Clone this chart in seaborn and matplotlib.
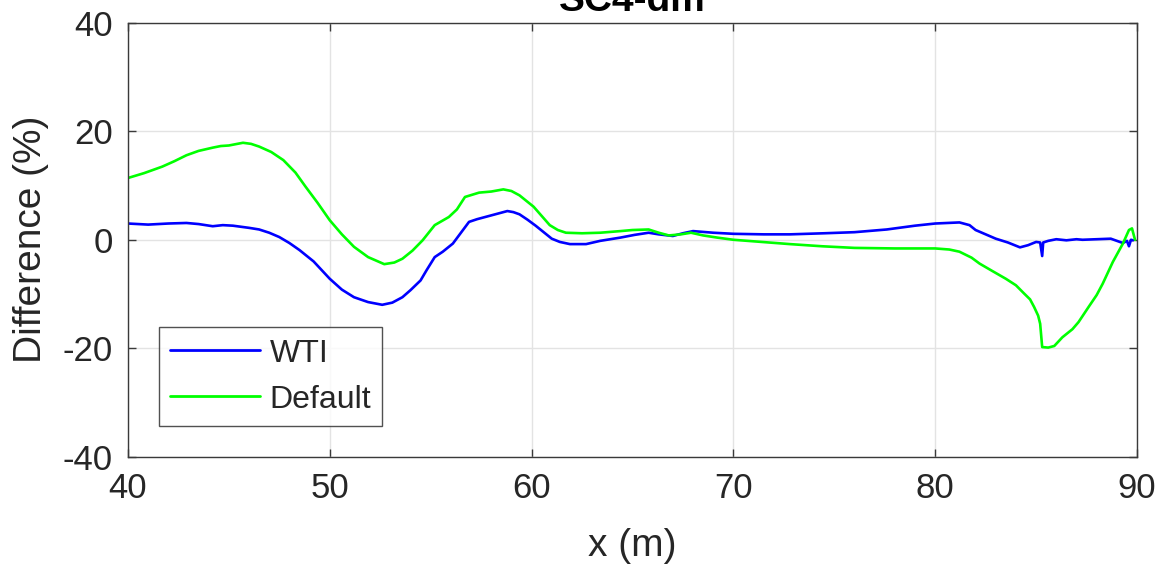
import matplotlib
matplotlib.use("Agg")
import matplotlib.pyplot as plt
import numpy as np
import pandas as pd
import seaborn as sns

# Difference profiles along x (m) for the two parameter sets
wti_x = [40.0, 41.0, 42.0, 42.9, 43.5, 44.2, 44.7, 45.2, 46.0, 46.5, 47.0, 47.5,
         48.0, 48.5, 49.2, 50.0, 50.6, 51.2, 51.9, 52.6, 53.1, 53.6, 54.0, 54.5,
         54.8, 55.2, 55.6, 56.1, 56.5, 56.9, 57.3, 57.7, 58.3, 58.8, 59.1, 59.4,
         59.8, 60.2, 60.6, 61.0, 61.4, 61.9, 62.7, 63.4, 64.4, 65.1, 65.8, 66.3,
         67.0, 67.5, 68.0, 69.0, 70.0, 71.5, 72.8, 74.5, 76.0, 77.6, 79.0, 80.0,
         81.2, 81.7, 82.0, 82.5, 83.0, 83.6, 84.2, 84.6, 85.0, 85.2, 85.3, 85.35,
         85.6, 86.0, 86.5, 87.0, 87.3, 88.0, 88.7, 89.0, 89.3, 89.5, 89.6, 89.7,
         89.8]
wti_y = [3.0, 2.8, 3.0, 3.1, 2.9, 2.5, 2.7, 2.6, 2.2, 1.9, 1.3, 0.5,
         -0.6, -1.9, -4.0, -7.2, -9.2, -10.6, -11.5, -12.0, -11.6, -10.6, -9.3, -7.5,
         -5.6, -3.2, -2.2, -0.7, 1.3, 3.3, 3.8, 4.2, 4.8, 5.3, 5.1, 4.7,
         3.7, 2.6, 1.4, 0.2, -0.4, -0.8, -0.8, -0.2, 0.4, 0.9, 1.3, 1.0,
         0.7, 1.2, 1.6, 1.3, 1.1, 1.0, 1.0, 1.2, 1.4, 1.9, 2.6, 3.0,
         3.2, 2.7, 1.8, 1.0, 0.2, -0.5, -1.4, -1.0, -0.4, -0.5, -3.0, -0.5,
         -0.2, 0.1, -0.1, 0.1, 0.0, 0.1, 0.2, -0.2, -0.6, -0.2, -1.2, 0.0,
         -0.1]

default_x = [40.0, 40.8, 41.7, 42.3, 42.9, 43.5, 44.2, 44.6, 45.0, 45.7, 46.1, 46.5,
             47.1, 47.7, 48.3, 48.8, 49.4, 50.0, 50.6, 51.2, 51.9, 52.7, 53.2, 53.6,
             54.1, 54.6, 55.2, 55.9, 56.3, 56.7, 57.4, 58.0, 58.6, 59.0, 59.4, 60.1,
             60.5, 60.9, 61.3, 61.7, 62.5, 63.4, 64.4, 65.0, 65.8, 66.3, 66.8, 67.4,
             67.9, 68.5, 69.2, 70.0, 71.4, 72.8, 74.4, 76.0, 78.0, 80.0, 80.7, 81.2,
             81.8, 82.2, 82.8, 83.5, 84.0, 84.4, 84.7, 84.9, 85.1, 85.2, 85.3, 85.6,
             85.9, 86.3, 86.8, 87.1, 87.6, 88.0, 88.3, 88.8, 89.3, 89.6, 89.75, 89.9]
default_y = [11.4, 12.3, 13.5, 14.5, 15.6, 16.4, 17.0, 17.3, 17.4, 17.9, 17.7, 17.2,
             16.2, 14.7, 12.4, 9.8, 6.8, 3.6, 1.0, -1.3, -3.2, -4.5, -4.2, -3.5,
             -2.0, -0.1, 2.7, 4.2, 5.6, 7.9, 8.7, 8.9, 9.3, 9.0, 8.2, 6.1,
             4.4, 2.7, 1.8, 1.3, 1.2, 1.3, 1.6, 1.8, 1.9, 1.3, 0.8, 1.0,
             1.3, 0.8, 0.4, 0.0, -0.4, -0.8, -1.2, -1.5, -1.6, -1.6, -1.8, -2.2,
             -3.3, -4.4, -5.7, -7.2, -8.4, -9.9, -11.0, -12.4, -14.0, -15.5, -19.8, -19.9,
             -19.6, -18.0, -16.5, -15.2, -12.4, -10.2, -8.1, -4.1, -0.7, 1.8, 2.1, 0.0]

series_names = ["WTI", "Default"]
series_colors = ["#0000ff", "#00ff00"]

x_ticks = [40, 50, 60, 70, 80, 90]
y_ticks = [-40, -20, 0, 20, 40]

df = pd.concat([
    pd.DataFrame({"x": wti_x, "diff": wti_y, "series": "WTI"}),
    pd.DataFrame({"x": default_x, "diff": default_y, "series": "Default"}),
], ignore_index=True)

sns.set_theme(style="whitegrid")
plt.rcParams["font.family"] = ["Liberation Sans", "DejaVu Sans"]
plt.rcParams["axes.unicode_minus"] = False
text_color = "#262626"

fig = plt.figure(figsize=(11.6, 5.7), dpi=100)
ax = fig.add_axes([0.1103, 0.1991, 0.8699, 0.7605])

sns.lineplot(data=df, x="x", y="diff", hue="series", hue_order=series_names,
             palette=dict(zip(series_names, series_colors)), sort=False,
             estimator=None, linewidth=1.9, ax=ax)

ax.set_xlim(40, 90)
ax.set_ylim(-40, 40)
ax.set_xticks(x_ticks)
ax.set_yticks(y_ticks)
ax.grid(True, color="#e3e3e3", linewidth=1.0)

for side in ["left", "right", "top", "bottom"]:
    ax.spines[side].set_visible(True)
    ax.spines[side].set_color("#3a3a3a")
    ax.spines[side].set_linewidth(1.0)

ax.tick_params(axis="both", direction="in", length=6, width=1.0, color="#3a3a3a",
               labelsize=25, labelcolor=text_color, top=True, right=True,
               bottom=True, left=True)
ax.tick_params(axis="x", pad=11)
ax.tick_params(axis="y", pad=11)

ax.set_xlabel("x (m)", fontsize=28, color=text_color)
ax.set_ylabel("Difference (%)", fontsize=28, color=text_color)
ax.xaxis.set_label_coords(0.5, -0.165)
ax.yaxis.set_label_coords(-0.078, 0.5)

ax.set_title("SC4-dm", fontsize=28, fontweight="bold", color="black", pad=9)

leg = ax.legend(loc="lower left", bbox_to_anchor=(0.031, 0.071), fontsize=23,
                frameon=True, fancybox=False, handlelength=2.8, handletextpad=0.3,
                borderpad=0.35, labelspacing=0.5, borderaxespad=0.0)
leg.get_frame().set_edgecolor("#262626")
leg.get_frame().set_linewidth(1.0)
for line in leg.get_lines():
    line.set_linewidth(2.0)

fig.savefig("out.png", dpi=100)
